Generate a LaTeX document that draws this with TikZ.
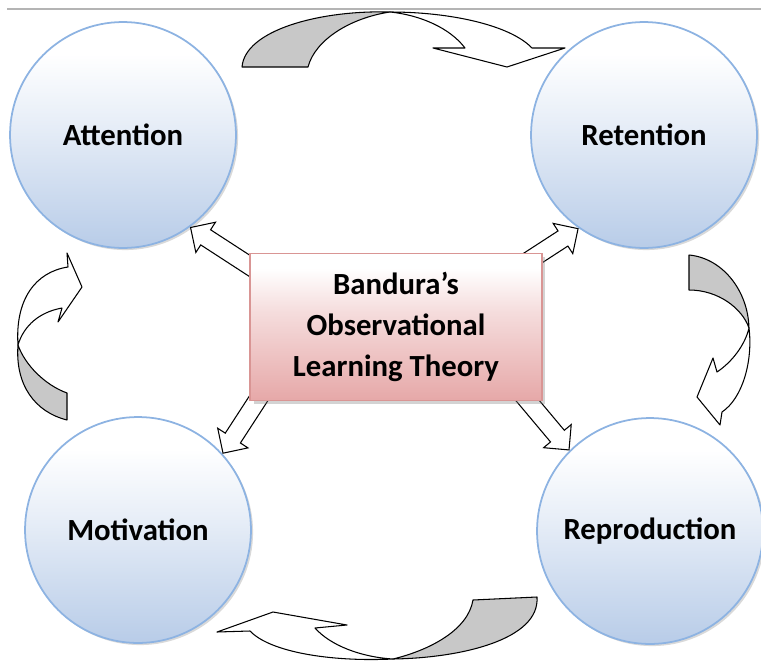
\documentclass[tikz,border=0pt]{standalone}
\usepackage{fontspec}
\setmainfont{Carlito}
\usepackage{tikz}
\usetikzlibrary{shapes.arrows,shadows}

\definecolor{ringblue}{RGB}{141,179,226}
\definecolor{ballblue}{RGB}{184,204,232}
\definecolor{boxred}{RGB}{217,149,148}
\definecolor{boxpink}{RGB}{230,168,168}
\definecolor{backgray}{RGB}{200,200,200}
\definecolor{rulegray}{RGB}{180,180,180}

\pgfdeclareverticalshading{ballshade}{100bp}{color(0bp)=(ballblue); color(25bp)=(ballblue); color(52bp)=(ballblue!35!white); color(68bp)=(white); color(100bp)=(white)}
\pgfdeclareverticalshading{boxshade}{100bp}{color(0bp)=(boxpink); color(25bp)=(boxpink); color(55bp)=(boxpink!40!white); color(70bp)=(white); color(100bp)=(white)}

\begin{document}
\begin{tikzpicture}[x=0.02cm, y=-0.02cm,
	ball/.style={circle, draw=ringblue, line width=1pt, shading=ballshade, shade, minimum size=4.52cm, inner sep=0pt, font=\fontsize{17.5}{20}\selectfont\bfseries, drop shadow={shadow xshift=1.2pt, shadow yshift=-1.2pt, opacity=0.3}},
	titlebox/.style={rectangle, draw=boxred, line width=0.8pt, shading=boxshade, shade, minimum width=5.84cm, minimum height=2.94cm, align=center, font=\fontsize{17.5}{23.5}\selectfont\bfseries, drop shadow={shadow xshift=2pt, shadow yshift=-2pt, opacity=0.35}},
	blockarr/.style={single arrow, draw=black, fill=white, line width=0.6pt, minimum height=1.8cm, inner sep=0.17cm, single arrow head extend=0.18cm, anchor=tip},
	backpart/.style={fill=backgray, draw=black, line width=0.6pt, line join=round},
	frontpart/.style={fill=white, draw=black, line width=0.6pt, line join=round}]
		\useasboundingbox (0,0) rectangle (761,663);
		\draw[rulegray, line width=0.6pt] (7,9) -- (761,9);

		\node[ball] (att) at (123,135) {Attention};
		\node[ball] (ret) at (644,135) {Retention};
		\node[ball] (mot) at (138,530) {Motivation};
		\node[ball] (rep) at (650,531) {Reproduction};

		% attention -> retention
		\draw[backpart] (242,67) .. controls (245,30) and (320,10) .. (390,12) .. controls (350,18) and (315,40) .. (308,67) -- cycle;
		\draw[frontpart] (390,12) .. controls (450,12) and (510,25) .. (532,48) -- (565,48) -- (507,67) -- (433,48) -- (465,48) .. controls (450,28) and (420,15) .. (390,12) -- cycle;

		% retention -> reproduction
		\draw[backpart] (689,255) .. controls (722,258) and (748,290) .. (749,328) .. controls (742,308) and (718,290) .. (689,290) -- cycle;
		\draw[frontpart] (749,328) .. controls (753,360) and (743,398) .. (722,412) -- (720,425) -- (697,397) -- (713,358) -- (717,372) .. controls (732,362) and (745,345) .. (749,328) -- cycle;

		% reproduction -> motivation
		\draw[backpart] (473,600) -- (537,597) .. controls (540,640) and (460,658) .. (393,659) .. controls (430,650) and (468,630) .. (473,600) -- cycle;
		\draw[frontpart] (393,659) .. controls (330,662) and (270,652) .. (250,631) -- (217,632) -- (273,612) -- (347,625) -- (315,628) .. controls (330,645) and (360,657) .. (393,659) -- cycle;

		% motivation -> attention
		\draw[backpart] (67,393) -- (67,420) .. controls (35,412) and (15,385) .. (18,345) .. controls (25,365) and (45,385) .. (67,393) -- cycle;
		\draw[frontpart] (18,345) .. controls (15,300) and (35,272) .. (68,267) -- (67,253) -- (82,287) -- (58,322) -- (62,308) .. controls (40,312) and (24,325) .. (18,345) -- cycle;

		\node[blockarr, rotate=147] (toatt) at (att.-54) {};
		\node[blockarr, rotate=33] (toret) at (ret.235) {};
		\node[blockarr, rotate=237] (tomot) at (mot.42) {};
		\node[blockarr, rotate=310] (torep) at (rep.135) {};

		\node[titlebox] (theory) at (396,327) {Bandura’s\\Observational\\Learning Theory};
	\end{tikzpicture}
\end{document}
